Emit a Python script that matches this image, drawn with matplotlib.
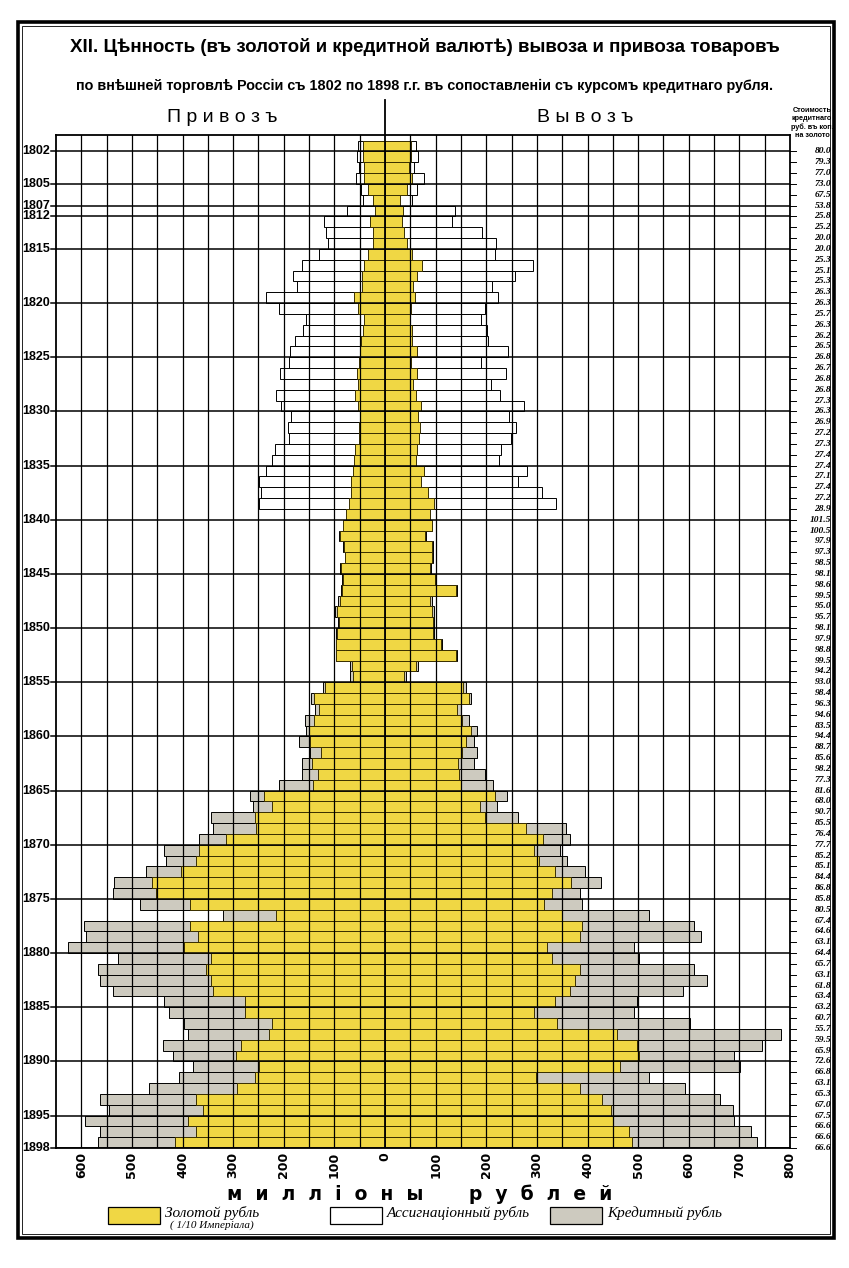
import numpy as np
import matplotlib
matplotlib.use("Agg")
import matplotlib.pyplot as plt
import matplotlib.transforms as mtransforms
from matplotlib.patches import Rectangle

# years shown (1808-1811 are skipped on the chart)
years = [1802, 1803, 1804, 1805, 1806, 1807] + list(range(1812, 1899))

# import (privoz), millions of rubles
imp_paper = [54, 55, 51, 58, 48, 43,
             76, 120, 116, 113, 131, 164, 182, 174, 236, 210, 157, 162, 177,
             187, 190, 207, 200, 215, 205, 185, 192, 190, 218, 223, 235, 248, 245, 248,
             76, 82, 91, 83, 80, 89, 85, 87, 93, 99, 93, 96, 97, 97, 70, 69,
             122, 147, 139, 159, 157, 170, 149, 165, 165, 210, 267, 261, 343, 340,
             368, 436, 433, 472, 535, 537, 484, 321, 595, 591, 627, 527, 568, 563,
             537, 436, 426, 398, 390, 438, 418, 380, 408, 467, 563, 546, 593, 563, 568]
imp_gold = [44, 43, 41, 41, 33, 23,
            20, 30, 23, 23, 33, 41, 46, 46, 62, 54, 41, 43, 47,
            50, 51, 55, 54, 59, 54, 50, 52, 52, 60, 61, 64, 68, 67, 72,
            77, 83, 89, 81, 79, 87, 84, 86, 89, 95, 91, 94, 96, 96, 66, 64,
            119, 141, 131, 140, 150, 149, 126, 145, 132, 142, 240, 223, 256, 254,
            314, 367, 373, 404, 461, 453, 385, 216, 385, 370, 398, 343, 353, 343,
            340, 277, 277, 223, 230, 284, 294, 248, 256, 292, 373, 360, 390, 373, 414]

# export (vyvoz), millions of rubles
exp_gold = [51, 51, 48, 54, 43, 29,
            36, 33, 38, 44, 54, 73, 64, 56, 59, 51, 50, 53, 54,
            64, 51, 64, 56, 62, 72, 66, 70, 68, 63, 62, 76, 72, 85, 97,
            89, 93, 79, 93, 92, 89, 98, 141, 89, 93, 95, 95, 110, 140, 62, 38,
            154, 166, 142, 152, 170, 160, 152, 145, 147, 150, 218, 188, 198, 279,
            312, 294, 304, 335, 367, 330, 314, 350, 390, 385, 319, 330, 385, 375,
            365, 335, 294, 340, 458, 497, 502, 464, 299, 385, 429, 446, 451, 482, 487]
exp_paper = [62, 65, 58, 77, 63, 53,
             139, 132, 192, 220, 218, 293, 256, 212, 224, 198, 189, 202, 203,
             243, 190, 238, 209, 227, 275, 245, 258, 248, 230, 225, 280, 262, 311, 338,
             88, 92, 81, 95, 94, 91, 99, 142, 93, 97, 97, 97, 113, 142, 66, 41,
             159, 170, 150, 166, 181, 175, 181, 175, 198, 213, 240, 221, 262, 357,
             365, 345, 360, 395, 426, 385, 390, 522, 610, 624, 492, 502, 610, 637,
             588, 497, 492, 603, 783, 745, 690, 702, 522, 593, 662, 687, 690, 722, 735]

# value of the credit ruble in gold kopecks (right-hand column)
rate = [80.0, 79.3, 77.0, 73.0, 67.5, 53.8,
        25.8, 25.2, 20.0, 20.0, 25.3, 25.1, 25.3, 26.3, 26.3, 25.7, 26.3, 26.2, 26.5,
        26.8, 26.7, 26.8, 26.8, 27.3, 26.3, 26.9, 27.2, 27.3, 27.4, 27.4, 27.1, 27.4, 27.2, 28.9,
        101.5, 100.5, 97.9, 97.3, 98.5, 98.1, 98.6, 99.5, 95.0, 95.7, 98.1, 97.9, 98.8, 99.5, 94.2, 93.0,
        98.4, 96.3, 94.6, 83.5, 94.4, 88.7, 85.6, 98.2, 77.3, 81.6, 68.0, 90.7, 85.5, 76.4,
        77.7, 85.2, 85.1, 84.4, 86.8, 85.8, 80.5, 67.4, 64.6, 63.1, 64.4, 65.7, 63.1, 61.8,
        63.4, 63.2, 60.7, 55.7, 59.5, 65.9, 72.6, 66.8, 63.1, 65.3, 67.0, 67.5, 66.6, 66.6, 66.6]

label_years = [1802, 1805, 1807, 1812, 1815, 1820, 1825, 1830, 1835, 1840, 1845,
               1850, 1855, 1860, 1865, 1870, 1875, 1880, 1885, 1890, 1895, 1898]

GOLD = '#F0D744'
ASSIG = '#FFFFFF'
CREDIT = '#CDCABF'
NARROW = ['Liberation Sans', 'DejaVu Sans']
SERIF = ['Liberation Serif', 'DejaVu Serif']

W, H = 849, 1268


def fx(px):
    return px / W


def fy(py):
    return 1 - py / H


fig = plt.figure(figsize=(8.49, 12.68), dpi=100)
fig.patch.set_facecolor('white')
ax = fig.add_axes([fx(56), fy(1148), (790 - 56) / W, (1148 - 134.7) / H])

n = len(years)
ypos = np.arange(n) + 0.5
paper_col = [ASSIG if y < 1840 else CREDIT for y in years]

# paper (assignat / credit) bars under the gold bars
ax.barh(ypos, -np.array(imp_paper), height=1.0, color=paper_col,
        edgecolor='black', linewidth=0.7, zorder=2)
ax.barh(ypos, exp_paper, height=1.0, color=paper_col,
        edgecolor='black', linewidth=0.7, zorder=2)
ax.barh(ypos, -np.array(imp_gold), height=1.0, color=GOLD,
        edgecolor='#3a3000', linewidth=0.7, zorder=3)
ax.barh(ypos, exp_gold, height=1.0, color=GOLD,
        edgecolor='#3a3000', linewidth=0.7, zorder=3)

ax.set_xlim(-650, 800)
ax.set_ylim(n, -0.55)

for v in range(-600, 800, 50):
    ax.axvline(v, color='black', lw=0.9 if v else 1.3, zorder=4)
ax.plot([0, 0], [-3.75, -0.55], color='black', lw=1.3, clip_on=False, zorder=4)

blend = mtransforms.blended_transform_factory(ax.transAxes, ax.transData)
for yr in label_years:
    yv = years.index(yr) + 1
    ax.axhline(yv, color='black', lw=1.1, zorder=4)
    ax.plot([-0.007, 0], [yv, yv], color='black', lw=1.1, transform=blend, clip_on=False)
    ax.text(-0.008, yv, str(yr), transform=blend, ha='right', va='center',
            fontsize=9, fontweight='bold', family=NARROW)

# right-hand column with credit ruble value
for k in range(n):
    yv = k + 1
    ax.plot([1.0, 1.008], [yv, yv], color='black', lw=0.7, transform=blend, clip_on=False)
    ax.text(1.056, yv, f"{rate[k]:.1f}", transform=blend, ha='right', va='center',
            fontsize=6.8, fontweight='bold', style='italic', family=SERIF)

head = ["Стоимость", "кредитнаго", "руб. въ коп.", "на золото"]
for i, s in enumerate(head):
    fig.text(fx(812), fy(110 + i * 8.5), s, ha='center', va='center',
             fontsize=5.2, fontweight='bold', family=NARROW)

ticks = list(range(-600, 801, 100))
ax.set_xticks(ticks)
ax.set_xticklabels([str(abs(t)) for t in ticks], rotation=90, fontsize=9,
                   fontweight='bold', family=['DejaVu Sans'])
ax.set_yticks([])
ax.tick_params(axis='x', length=0, pad=3)
for sp in ax.spines.values():
    sp.set_linewidth(1.3)
    sp.set_zorder(5)

# titles
fig.text(fx(425), fy(47), "XII. Цѣнность (въ золотой и кредитной валютѣ) вывоза и привоза товаровъ",
         ha='center', va='center', fontsize=13.5, fontweight='bold', family=NARROW)
fig.text(fx(425), fy(86), "по внѣшней торговлѣ Россіи съ 1802 по 1898 г.г. въ сопоставленіи съ курсомъ кредитнаго рубля.",
         ha='center', va='center', fontsize=10.4, fontweight='bold', family=NARROW)
fig.text(fx(222), fy(118), "П р и в о з ъ", ha='center', va='center', fontsize=14, family=NARROW)
fig.text(fx(585), fy(118), "В ы в о з ъ", ha='center', va='center', fontsize=14, family=NARROW)

fig.text(fx(420), fy(1194), "м  и  л  л  і  о  н  ы       р  у  б  л  е  й", ha='center', va='center',
         fontsize=13.5, fontweight='bold', family=['DejaVu Sans'])

# legend
leg = [(108, GOLD, "Золотой рубль"), (330, ASSIG, "Ассигнаціонный рубль"), (550, CREDIT, "Кредитный рубль")]
for x0, col, txt in leg:
    fig.add_artist(Rectangle((fx(x0), fy(1224)), 52 / W, 17 / H, facecolor=col,
                             edgecolor='black', lw=0.9, transform=fig.transFigure))
    fig.text(fx(x0 + 57), fy(1213), txt, ha='left', va='center', fontsize=11,
             style='italic', family=SERIF)
fig.text(fx(170), fy(1225), "( 1/10 Имперiала)", ha='left', va='center', fontsize=8,
         style='italic', family=SERIF)

# outer frame
fig.add_artist(Rectangle((fx(18), fy(1238)), (834 - 18) / W, (1238 - 22) / H, fill=False,
                         lw=2.6, edgecolor='black', transform=fig.transFigure))
fig.add_artist(Rectangle((fx(22), fy(1234)), (830 - 22) / W, (1234 - 26) / H, fill=False,
                         lw=0.6, edgecolor='black', transform=fig.transFigure))

fig.savefig("out.png", dpi=100)
